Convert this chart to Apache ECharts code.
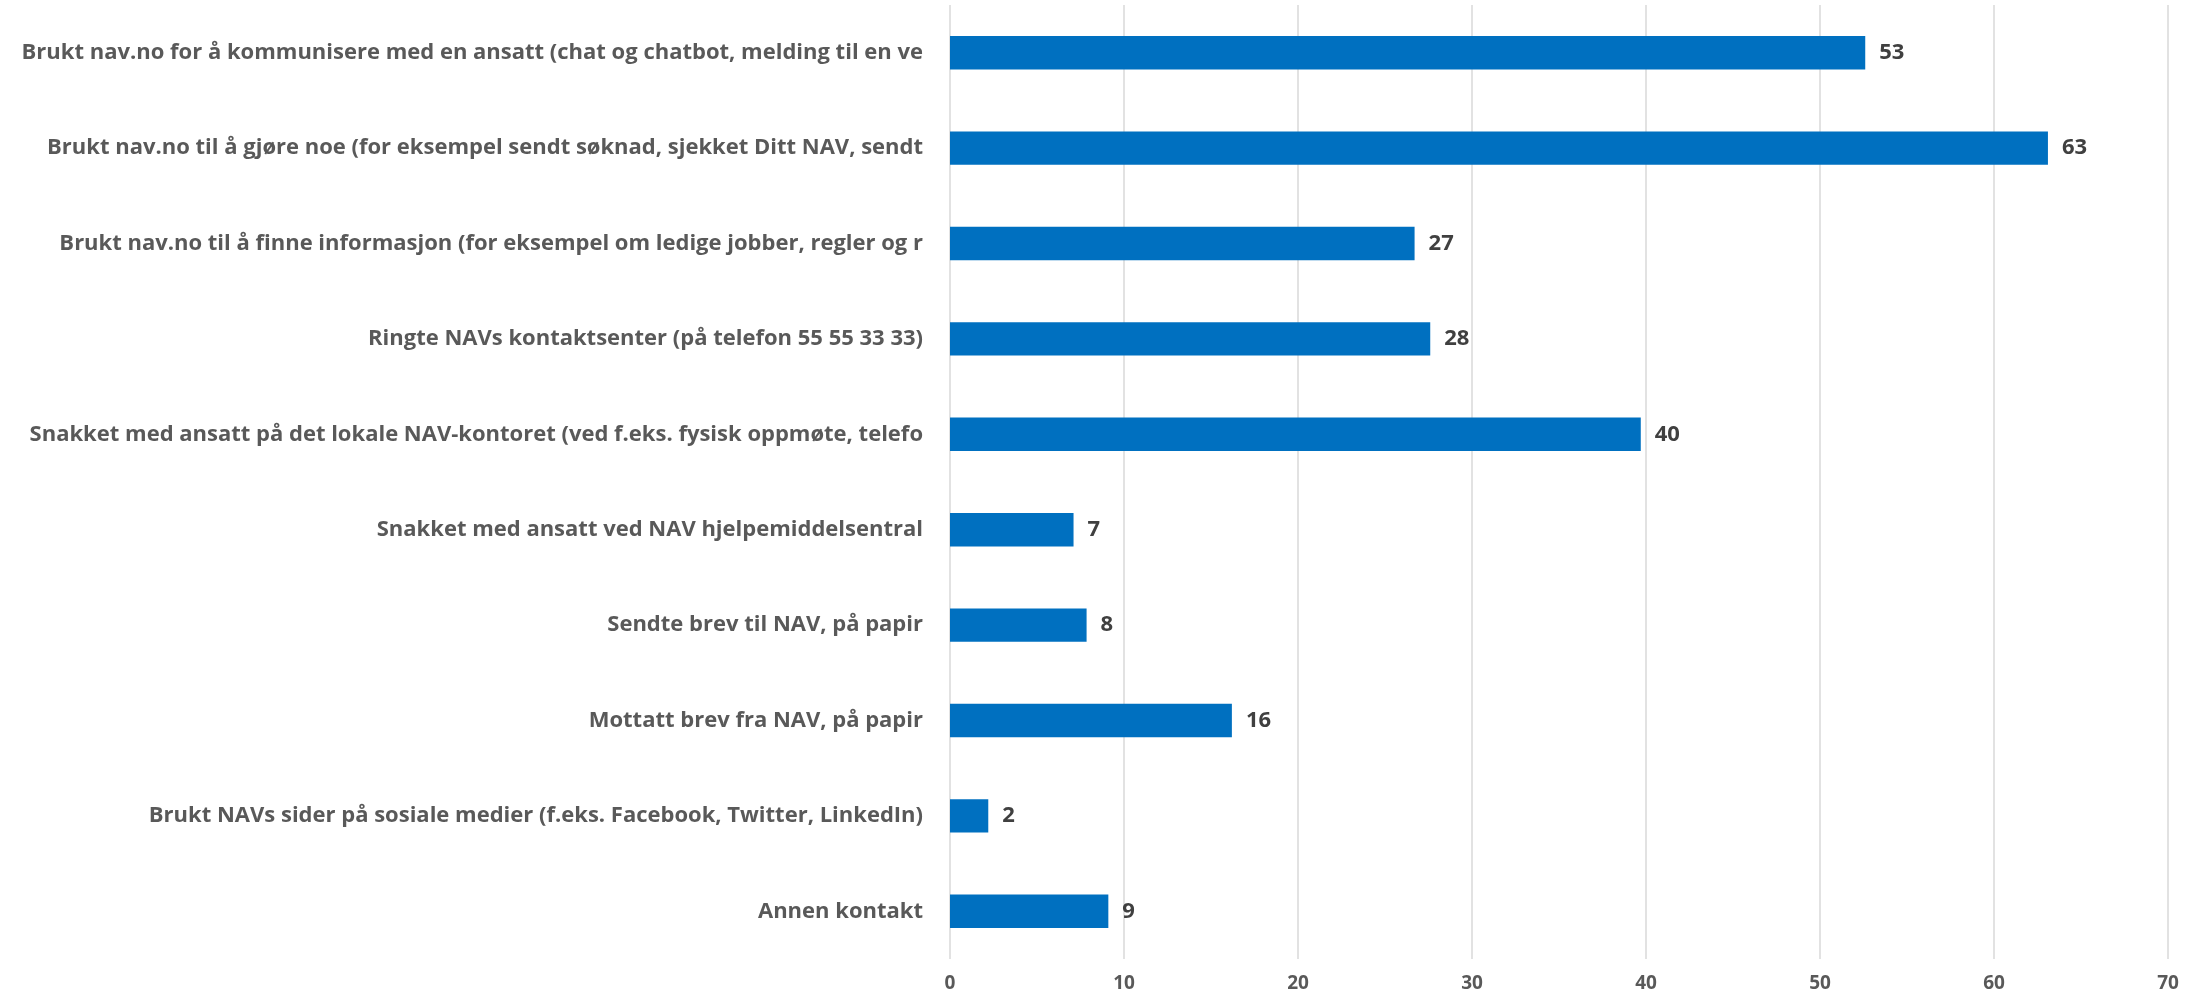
<!DOCTYPE html>
<html><head><meta charset="utf-8">
<script src="https://cdn.jsdelivr.net/npm/echarts@6/dist/echarts.min.js"></script>
<style>html,body{margin:0;padding:0;background:#fff}#c{width:2204px;height:1000px}</style>
</head><body><div id="c"></div>
<script>
const categories = [
  "Brukt nav.no for å kommunisere med en ansatt (chat og chatbot, melding til en ve",
  "Brukt nav.no til å gjøre noe (for eksempel sendt søknad, sjekket Ditt NAV, sendt",
  "Brukt nav.no til å finne informasjon (for eksempel om ledige jobber, regler og r",
  "Ringte NAVs kontaktsenter (på telefon 55 55 33 33)",
  "Snakket med ansatt på det lokale NAV-kontoret (ved f.eks. fysisk oppmøte, telefo",
  "Snakket med ansatt ved NAV hjelpemiddelsentral",
  "Sendte brev til NAV, på papir",
  "Mottatt brev fra NAV, på papir",
  "Brukt NAVs sider på sosiale medier (f.eks. Facebook, Twitter, LinkedIn)",
  "Annen kontakt"
];
const values = [52.6, 63.1, 26.7, 27.6, 39.7, 7.1, 7.85, 16.2, 2.2, 9.1];
const xTicks = [0, 10, 20, 30, 40, 50, 60, 70];

const FONT = '"Open Sans"';
const chart = echarts.init(document.getElementById('c'));
chart.setOption({
  animation: false,
  grid: {left: 950, right: 36, top: 5, bottom: 41, containLabel: false},
  xAxis: {
    type: 'value', min: xTicks[0], max: xTicks[xTicks.length-1], interval: 10,
    axisLine: {show: false}, axisTick: {show: false},
    axisLabel: {color: '#595959', fontFamily: FONT, fontWeight: 'bold', fontSize: 19, margin: 15},
    splitLine: {show: true, lineStyle: {color: '#d9d9d9', width: 1.5}}
  },
  yAxis: {
    type: 'category', data: categories, inverse: true,
    axisLine: {show: false}, axisTick: {show: false},
    axisLabel: {color: '#595959', fontFamily: FONT, fontWeight: 'bold', fontSize: 22, margin: 27}
  },
  series: [{
    type: 'bar', data: values, barWidth: '35%',
    itemStyle: {color: '#0070C0'},
    label: {show: true, position: 'right', distance: 14, color: '#404040',
      fontFamily: FONT, fontWeight: 'bold', fontSize: 22,
      formatter: p => Math.round(p.value)}
  }]
});
</script></body></html>
